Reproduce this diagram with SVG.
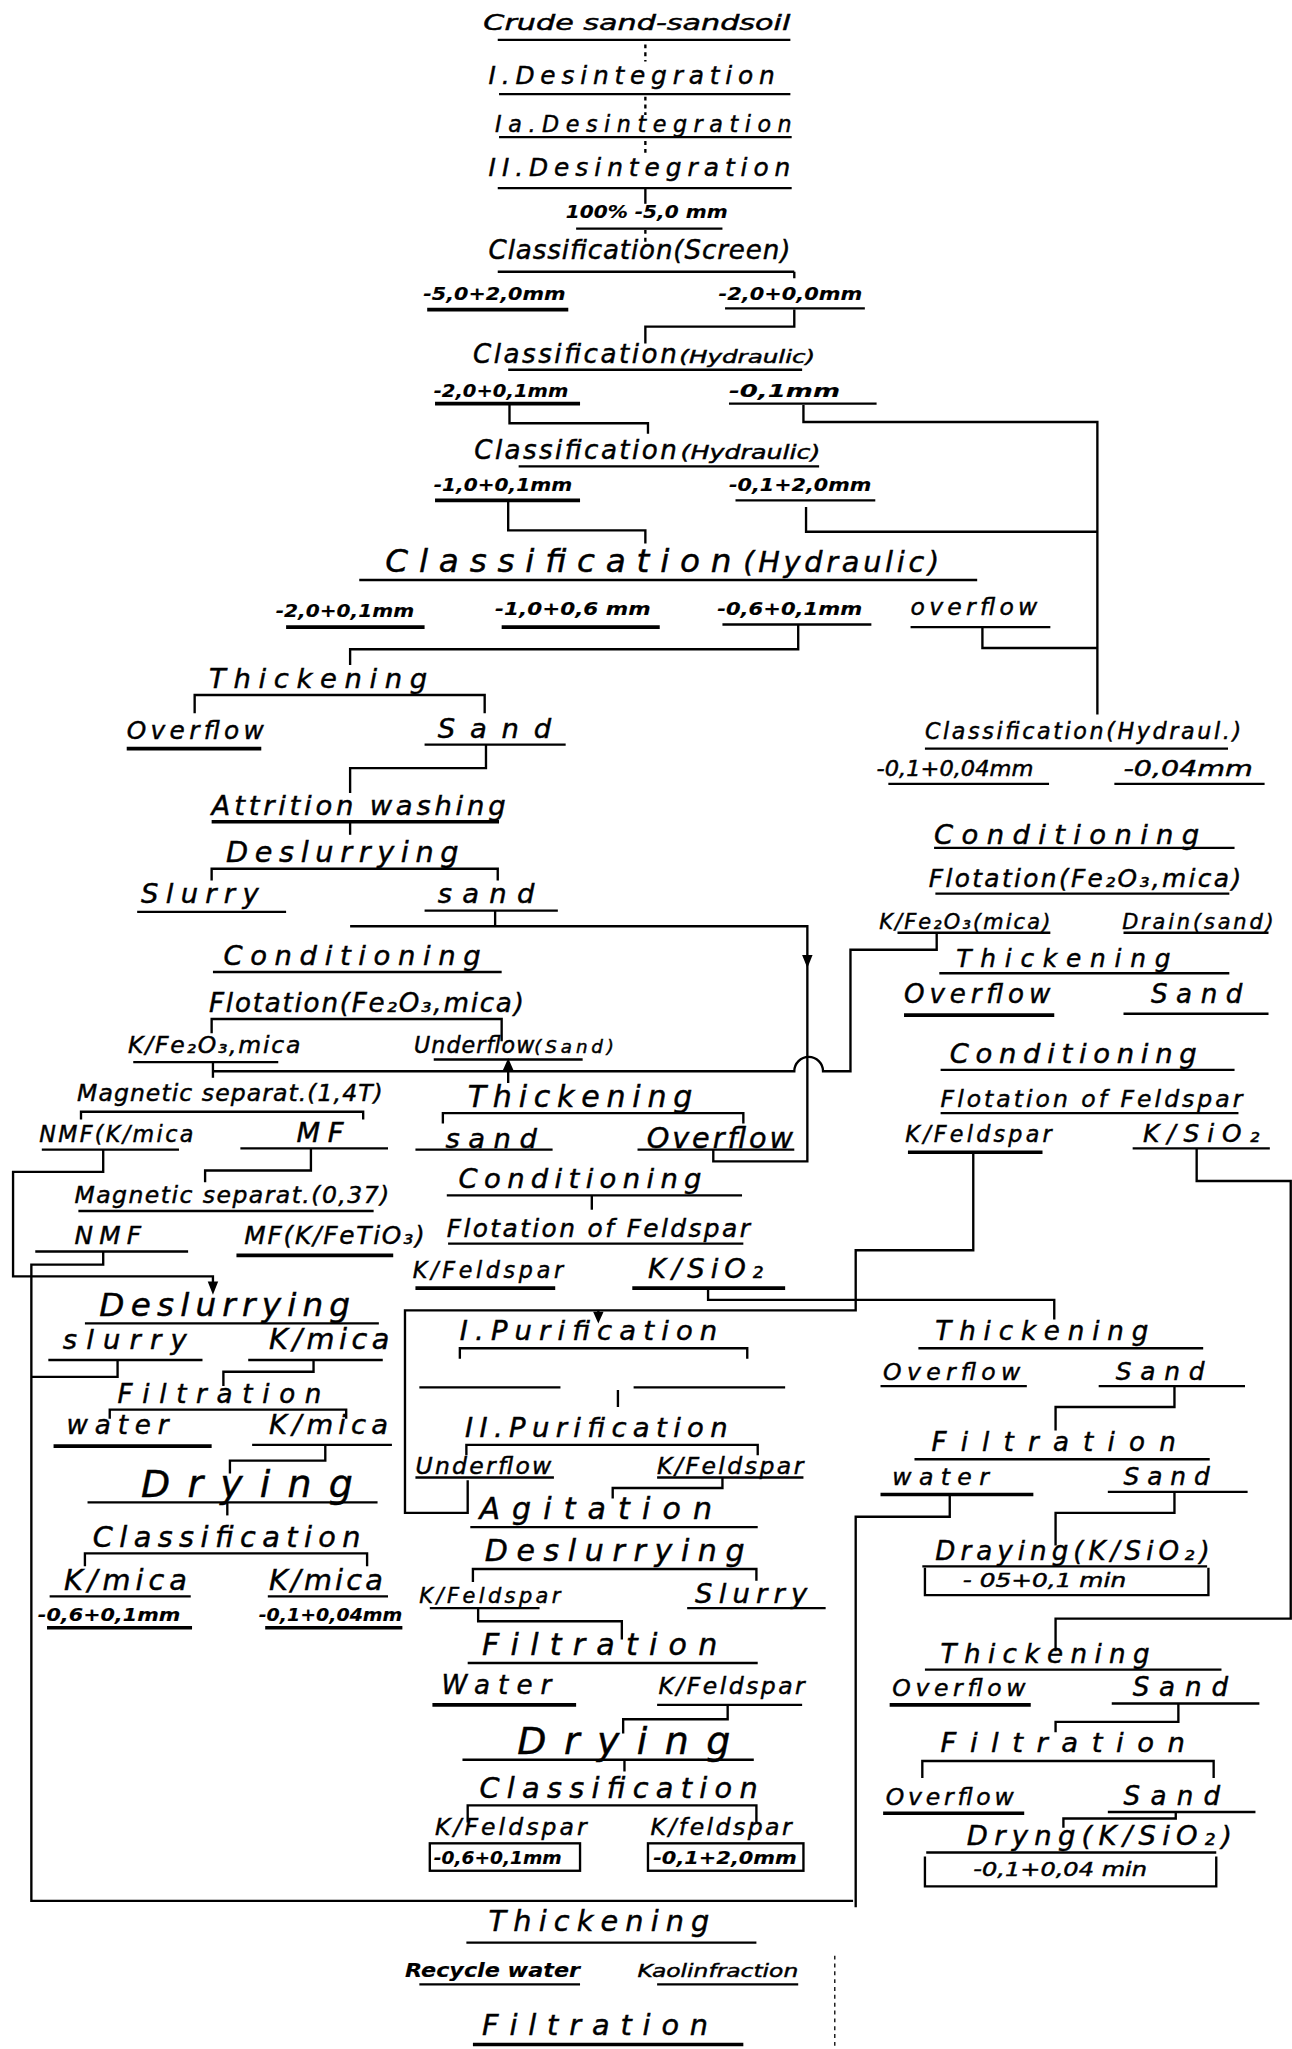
<svg xmlns="http://www.w3.org/2000/svg" width="1292" height="2049" viewBox="0 0 1292 2049">
<style>
text{font-family:"DejaVu Sans","Liberation Sans",sans-serif;font-style:italic;fill:#000;stroke:#000;stroke-width:0.35}
.b{font-weight:bold;stroke-width:0.1}
.u{stroke:#000;stroke-width:1.8;fill:none}
.w{stroke-width:2.8}
.c{stroke:#000;stroke-width:1.8;fill:none}
.d{stroke-dasharray:3 3}
.ah{fill:#000}
</style>
<rect width="1292" height="2049" fill="#fff"/>
<g transform="scale(1.3064)">
<g id="n_crude"><text x="370" y="23" font-size="16" textLength="235" lengthAdjust="spacingAndGlyphs">Crude sand-sandsoil</text><path class="u" d="M381 30.5H605"/></g>
<g id="n_des1"><text x="374" y="64" font-size="19" textLength="219">I.Desintegration</text><path class="u" d="M382 72H605"/></g>
<g id="n_des1a"><text x="379" y="101" font-size="17" textLength="227">Ia.Desintegration</text><path class="u" d="M382 105H606"/></g>
<g id="n_des2"><text x="374" y="135" font-size="19" textLength="231">II.Desintegration</text><path class="u" d="M381 144H606"/></g>
<g id="n_100"><text class="b" x="433" y="167" font-size="14" textLength="124" lengthAdjust="spacingAndGlyphs">100% -5,0 mm</text><path class="u" d="M441 175H553"/></g>
<g id="n_cls_screen"><text x="374" y="198" font-size="20" textLength="231">Classification(Screen)</text><path class="u" d="M381 208H608"/></g>
<g id="n_5020"><text class="b" x="324" y="230" font-size="14" textLength="109" lengthAdjust="spacingAndGlyphs">-5,0+2,0mm</text><path class="u w" d="M327 237H435"/></g>
<g id="n_2000"><text class="b" x="550" y="230" font-size="14" textLength="110" lengthAdjust="spacingAndGlyphs">-2,0+0,0mm</text><path class="u" d="M555 236H662"/></g>
<g id="n_cls_h1"><text x="362" y="278" font-size="20" textLength="156">Classification</text><text x="520" y="278" font-size="14" textLength="104" lengthAdjust="spacingAndGlyphs">(Hydraulic)</text><path class="u" d="M389 283H614"/></g>
<g id="n_2001a"><text class="b" x="332" y="304" font-size="14" textLength="103" lengthAdjust="spacingAndGlyphs">-2,0+0,1mm</text><path class="u w" d="M333 309H444"/></g>
<g id="n_01"><text class="b" x="558" y="304" font-size="14" textLength="85" lengthAdjust="spacingAndGlyphs">-0,1mm</text><path class="u" d="M558 309H671"/></g>
<g id="n_cls_h2"><text x="363" y="351" font-size="20" textLength="155">Classification</text><text x="521" y="351" font-size="15" textLength="107" lengthAdjust="spacingAndGlyphs">(Hydraulic)</text><path class="u" d="M397 357H627"/></g>
<g id="n_1001"><text class="b" x="332" y="376" font-size="14" textLength="106" lengthAdjust="spacingAndGlyphs">-1,0+0,1mm</text><path class="u w" d="M333 383H444"/></g>
<g id="n_0120"><text class="b" x="558" y="376" font-size="14" textLength="109" lengthAdjust="spacingAndGlyphs">-0,1+2,0mm</text><path class="u" d="M563 383H670"/></g>
<g id="n_cls_h3"><text x="295" y="438" font-size="25" textLength="265">Classification</text><text x="569" y="438" font-size="22" textLength="150">(Hydraulic)</text><path class="u" d="M275 444H748"/></g>
<g id="n_r1"><text class="b" x="211" y="472" font-size="14" textLength="106" lengthAdjust="spacingAndGlyphs">-2,0+0,1mm</text><path class="u w" d="M219 480H325"/></g>
<g id="n_r2"><text class="b" x="379" y="471" font-size="14" textLength="119" lengthAdjust="spacingAndGlyphs">-1,0+0,6 mm</text><path class="u w" d="M384 480H505"/></g>
<g id="n_r3"><text class="b" x="549" y="471" font-size="14" textLength="111" lengthAdjust="spacingAndGlyphs">-0,6+0,1mm</text><path class="u" d="M553 478H667"/></g>
<g id="n_r4"><text x="697" y="471" font-size="18" textLength="97">overflow</text><path class="u" d="M697 480H804"/></g>
<g id="n_thick1"><text x="160" y="527" font-size="21" textLength="167">Thickening</text></g>
<g id="n_ovf1"><text x="97" y="566" font-size="19" textLength="105">Overflow</text><path class="u w" d="M97 573H200"/></g>
<g id="n_sand1"><text x="335" y="565" font-size="21" textLength="87">Sand</text><path class="u" d="M325 570H433"/></g>
<g id="n_attr"><text x="162" y="624" font-size="21" textLength="225">Attrition washing</text><path class="u w" d="M162 629H382"/></g>
<g id="n_desl1"><text x="173" y="660" font-size="22" textLength="178">Deslurrying</text></g>
<g id="n_slurry1"><text x="108" y="691" font-size="21" textLength="90">Slurry</text><path class="u" d="M105 698H219"/></g>
<g id="n_sand2"><text x="335" y="691" font-size="21" textLength="74">sand</text><path class="u" d="M325 697H427"/></g>
<g id="n_cond1"><text x="171" y="739" font-size="21" textLength="197">Conditioning</text><path class="u" d="M163 744H384"/></g>
<g id="n_flot1"><text x="160" y="775" font-size="20" textLength="241">Flotation(Fe₂O₃,mica)</text></g>
<g id="n_kfe1"><text x="98" y="806" font-size="18" textLength="132">K/Fe₂O₃,mica</text><path class="u" d="M102 813H213"/></g>
<g id="n_uf1"><text x="317" y="806" font-size="17" textLength="92">Underflow</text><text x="409" y="806" font-size="14" textLength="61">(Sand)</text><path class="u" d="M332 811H446"/></g>
<g id="n_mag1"><text x="59" y="843" font-size="18" textLength="234">Magnetic separat.(1,4T)</text></g>
<g id="n_nmf1"><text x="30" y="874" font-size="17" textLength="118">NMF(K/mica</text><path class="u" d="M32 880H137"/></g>
<g id="n_mf1"><text x="227" y="874" font-size="21" textLength="36">MF</text><path class="u" d="M184 879H297"/></g>
<g id="n_mag2"><text x="57" y="921" font-size="18" textLength="241">Magnetic separat.(0,37)</text><path class="u" d="M60 927H286"/></g>
<g id="n_nmf2"><text x="57" y="952" font-size="19" textLength="51">NMF</text><path class="u" d="M27 958H144"/></g>
<g id="n_mf2"><text x="187" y="952" font-size="19" textLength="138">MF(K/FeTiO₃)</text><path class="u w" d="M181 961H301"/></g>
<g id="n_desl2"><text x="76" y="1007" font-size="25" textLength="192">Deslurrying</text><path class="u" d="M65 1013H290"/></g>
<g id="n_slurry2"><text x="48" y="1033" font-size="21" textLength="95">slurry</text><path class="u" d="M37 1041H155"/></g>
<g id="n_kmica1"><text x="206" y="1033" font-size="22" textLength="92">K/mica</text><path class="u" d="M190 1041H293"/></g>
<g id="n_filt1"><text x="90" y="1074" font-size="20" textLength="156">Filtration</text></g>
<g id="n_water1"><text x="51" y="1098" font-size="20" textLength="78">water</text><path class="u w" d="M41 1107H162"/></g>
<g id="n_kmica2"><text x="206" y="1098" font-size="21" textLength="91">K/mica</text><path class="u" d="M193 1106H300"/></g>
<g id="n_dry1"><text x="108" y="1146" font-size="29" textLength="162">Drying</text><path class="u" d="M67 1150H289"/></g>
<g id="n_cls_l"><text x="71" y="1184" font-size="22" textLength="205">Classification</text></g>
<g id="n_kmica3"><text x="49" y="1217" font-size="22" textLength="94">K/mica</text><path class="u" d="M38 1222H146"/></g>
<g id="n_kmica4"><text x="206" y="1217" font-size="22" textLength="87">K/mica</text><path class="u" d="M205 1222H297"/></g>
<g id="n_s1"><text class="b" x="29" y="1241" font-size="14" textLength="109" lengthAdjust="spacingAndGlyphs">-0,6+0,1mm</text><path class="u w" d="M36 1246H147"/></g>
<g id="n_s2"><text class="b" x="198" y="1241" font-size="14" textLength="110" lengthAdjust="spacingAndGlyphs">-0,1+0,04mm</text><path class="u w" d="M203 1246H308"/></g>
<g id="n_thick2"><text x="358" y="847" font-size="23" textLength="172">Thickening</text></g>
<g id="n_sand3"><text x="341" y="879" font-size="21" textLength="70">sand</text><path class="u" d="M318 880H423"/></g>
<g id="n_ovf2"><text x="495" y="879" font-size="22" textLength="112">Overflow</text><path class="u" d="M488 880H608"/></g>
<g id="n_cond2"><text x="351" y="909" font-size="21" textLength="186">Conditioning</text><path class="u" d="M342 915H568"/></g>
<g id="n_flotf2"><text x="342" y="947" font-size="19" textLength="232">Flotation of Feldspar</text><path class="u" d="M343 952H569"/></g>
<g id="n_kf2"><text x="316" y="978" font-size="17" textLength="115">K/Feldspar</text><path class="u w" d="M318 986H425"/></g>
<g id="n_ksio2"><text x="496" y="978" font-size="21" textLength="88">K/SiO₂</text><path class="u w" d="M484 986H601"/></g>
<g id="n_pur1"><text x="352" y="1026" font-size="21" textLength="197">I.Purification</text></g>
<g id="n_pur2"><text x="356" y="1100" font-size="21" textLength="201">II.Purification</text></g>
<g id="n_uf2"><text x="318" y="1128" font-size="18" textLength="104">Underflow</text><path class="u" d="M318 1131H424"/></g>
<g id="n_kf3"><text x="503" y="1128" font-size="18" textLength="112">K/Feldspar</text><path class="u" d="M503 1131H615"/></g>
<g id="n_agit"><text x="367" y="1163" font-size="23" textLength="178">Agitation</text><path class="u" d="M360 1169H580"/></g>
<g id="n_desl3"><text x="371" y="1195" font-size="23" textLength="199">Deslurrying</text></g>
<g id="n_kf4"><text x="321" y="1227" font-size="16" textLength="108">K/Feldspar</text><path class="u" d="M329 1231H413"/></g>
<g id="n_slurry3"><text x="532" y="1227" font-size="21" textLength="86">Slurry</text><path class="u" d="M526 1231H632"/></g>
<g id="n_filt3"><text x="369" y="1267" font-size="23" textLength="180">Filtration</text><path class="u" d="M358 1273H580"/></g>
<g id="n_water3"><text x="338" y="1297" font-size="20" textLength="84">Water</text><path class="u w" d="M331 1305H441"/></g>
<g id="n_kf5"><text x="504" y="1297" font-size="18" textLength="112">K/Feldspar</text><path class="u" d="M503 1305H614"/></g>
<g id="n_dry3"><text x="396" y="1343" font-size="29" textLength="163">Drying</text><path class="u" d="M354 1347H577"/></g>
<g id="n_cls3"><text x="367" y="1376" font-size="22" textLength="213">Classification</text></g>
<g id="n_kf6"><text x="333" y="1405" font-size="18" textLength="116">K/Feldspar</text><rect class="u" x="329" y="1411" width="115" height="21"/><text class="b" x="332" y="1427" font-size="14" textLength="98" lengthAdjust="spacingAndGlyphs">-0,6+0,1mm</text></g>
<g id="n_kf7"><text x="498" y="1405" font-size="18" textLength="108">K/feldspar</text><rect class="u" x="496" y="1411" width="119" height="21"/><text class="b" x="500" y="1427" font-size="14" textLength="110" lengthAdjust="spacingAndGlyphs">-0,1+2,0mm</text></g>
<g id="n_thick3"><text x="374" y="1478" font-size="22" textLength="169">Thickening</text><path class="u" d="M357 1487H579"/></g>
<g id="n_recyc"><text class="b" x="310" y="1513" font-size="15" textLength="134" lengthAdjust="spacingAndGlyphs">Recycle water</text><path class="u" d="M321 1519H444"/></g>
<g id="n_kaolin"><text x="488" y="1513" font-size="14" textLength="123" lengthAdjust="spacingAndGlyphs">Kaolinfraction</text><path class="u" d="M503 1519H611"/></g>
<g id="n_filt4"><text x="369" y="1558" font-size="22" textLength="173">Filtration</text><path class="u w" d="M362 1565H569"/></g>
<g id="n_clsr"><text x="708" y="566" font-size="17" textLength="242">Classification(Hydraul.)</text><path class="u" d="M708 573H940"/></g>
<g id="n_r0104"><text x="671" y="594" font-size="16" textLength="120" lengthAdjust="spacingAndGlyphs">-0,1+0,04mm</text><path class="u" d="M680 600H803"/></g>
<g id="n_r004"><text x="860" y="594" font-size="16" textLength="99" lengthAdjust="spacingAndGlyphs">-0,04mm</text><path class="u" d="M853 600H968"/></g>
<g id="n_condr"><text x="715" y="646" font-size="21" textLength="203">Conditioning</text><path class="u" d="M715 649H945"/></g>
<g id="n_flotr"><text x="711" y="679" font-size="19" textLength="239">Flotation(Fe₂O₃,mica)</text><path class="u" d="M716 684H941"/></g>
<g id="n_kfer"><text x="673" y="711" font-size="16" textLength="131">K/Fe₂O₃(mica)</text><path class="u" d="M687 714H804"/></g>
<g id="n_drain"><text x="859" y="711" font-size="16" textLength="116">Drain(sand)</text><path class="u" d="M860 714H971"/></g>
<g id="n_thickr1"><text x="732" y="740" font-size="19" textLength="164">Thickening</text><path class="u" d="M719 745H941"/></g>
<g id="n_ovfr1"><text x="692" y="768" font-size="20" textLength="112">Overflow</text><path class="u w" d="M692 777H807"/></g>
<g id="n_sandr1"><text x="881" y="768" font-size="20" textLength="70">Sand</text><path class="u" d="M860 776H971"/></g>
<g id="n_condr2"><text x="727" y="814" font-size="21" textLength="189">Conditioning</text><path class="u" d="M720 819H945"/></g>
<g id="n_flotfr"><text x="720" y="847" font-size="18" textLength="231">Flotation of Feldspar</text><path class="u" d="M720 852H948"/></g>
<g id="n_kfr"><text x="693" y="874" font-size="17" textLength="112">K/Feldspar</text><path class="u w" d="M695 882H798"/></g>
<g id="n_ksior"><text x="875" y="874" font-size="19" textLength="89">K/SiO₂</text><path class="u" d="M867 879H972"/></g>
<g id="n_thickr2"><text x="716" y="1026" font-size="20" textLength="163">Thickening</text><path class="u" d="M703 1032H921"/></g>
<g id="n_ovfr2"><text x="676" y="1056" font-size="18" textLength="105">Overflow</text><path class="u" d="M674 1061H786"/></g>
<g id="n_sandr2"><text x="854" y="1056" font-size="19" textLength="68">Sand</text><path class="u" d="M841 1061H953"/></g>
<g id="n_filtr2"><text x="713" y="1111" font-size="20" textLength="187">Filtration</text><path class="u" d="M700 1117H926"/></g>
<g id="n_waterr"><text x="683" y="1137" font-size="18" textLength="74">water</text><path class="u w" d="M674 1144H791"/></g>
<g id="n_sandr3"><text x="860" y="1137" font-size="19" textLength="66">Sand</text><path class="u" d="M848 1142H955"/></g>
<g id="n_dryr1"><text x="716" y="1194" font-size="20" textLength="210">Draying(K/SiO₂)</text><path class="u" d="M706 1199H924"/><path class="u" d="M708 1200V1221H925V1200"/><text x="737" y="1215" font-size="15" textLength="125" lengthAdjust="spacingAndGlyphs">- 05+0,1 min</text></g>
<g id="n_thickr3"><text x="720" y="1273" font-size="20" textLength="160">Thickening</text><path class="u" d="M708 1278H935"/></g>
<g id="n_ovfr3"><text x="683" y="1298" font-size="18" textLength="102">Overflow</text><path class="u w" d="M681 1305H789"/></g>
<g id="n_sandr4"><text x="867" y="1298" font-size="20" textLength="73">Sand</text><path class="u" d="M851 1304H964"/></g>
<g id="n_filtr3"><text x="720" y="1341" font-size="21" textLength="187">Filtration</text></g>
<g id="n_ovfr4"><text x="678" y="1382" font-size="18" textLength="98">Overflow</text><path class="u w" d="M676 1388H784"/></g>
<g id="n_sandr5"><text x="860" y="1382" font-size="20" textLength="74">Sand</text><path class="u" d="M848 1387H961"/></g>
<g id="n_dryr2"><text x="740" y="1412" font-size="21" textLength="203">Dryng(K/SiO₂)</text><path class="u" d="M709 1418H931"/><path class="u" d="M708 1421V1444H931V1421"/><text x="745" y="1436" font-size="15" textLength="133" lengthAdjust="spacingAndGlyphs">-0,1+0,04 min</text></g>
<g id="connectors">
<path class="c d" d="M494 34V47M494 74V88M494 108V120M494 176V186"/>
<path class="c" d="M494 144V156"/>
<path class="c" d="M608 208V213"/>
<path class="c" d="M608 237V250H494V263"/>
<path class="c" d="M390 309V324H496V332"/>
<path class="c" d="M615 310V323H840V547"/>
<path class="c" d="M389 384V406H494V416"/>
<path class="c" d="M617 388V407H840"/>
<path class="c" d="M611 478V497H268V509"/>
<path class="c" d="M752 480V496H840"/>
<path class="c" d="M149 546V532H371V546"/>
<path class="c" d="M372 570V588H268V607"/>
<path class="c" d="M268 630V639"/>
<path class="c" d="M162 674V665H381V674"/>
<path class="c" d="M379 697V709"/>
<path class="c" d="M268 709H618V889H546V880"/>
<polygon class="ah" points="618,741 614,731 622,731"/>
<path class="c" d="M162 791V780H384V797"/>
<path class="c" d="M163 813V825"/>
<path class="c" d="M163 820H608A11 11 0 0 1 630 820H651V727H717V714"/>
<path class="c" d="M389 819V829"/>
<polygon class="ah" points="389,810 385,819 393,819"/>
<path class="c" d="M62 857V851H278V857"/>
<path class="c" d="M79 880V897H10V977H163V983"/>
<polygon class="ah" points="163,991 159,981 167,981"/>
<path class="c" d="M238 879V896H157V905"/>
<path class="c" d="M79 958V968H24V1455H653"/>
<path class="c" d="M90 1041V1054H24"/>
<path class="c" d="M240 1041V1050H171V1061"/>
<path class="c" d="M84 1086V1079H265V1086"/>
<path class="c" d="M249 1106V1118H176V1128"/>
<path class="c" d="M174 1150V1160"/>
<path class="c" d="M65 1199V1189H281V1199"/>
<path class="c" d="M339 860V852H569V860"/>
<path class="c" d="M453 915V926"/>
<path class="c" d="M542 986V995H807V1010"/>
<path class="c" d="M745 882V957H655V1003H310V1158H358V1133"/>
<path class="c" d="M458 1003V1006"/>
<polygon class="ah" points="458,1013 454,1004 462,1004"/>
<path class="c" d="M352 1040V1032H572V1040"/>
<path class="c" d="M321 1062H429M485 1062H601M473 1064V1077"/>
<path class="c" d="M357 1114V1106H580V1114"/>
<path class="c" d="M553 1131V1139H469V1147"/>
<path class="c" d="M362 1211V1201H579V1210"/>
<path class="c" d="M366 1231V1241H476V1255"/>
<path class="c" d="M557 1305V1316H477V1327"/>
<path class="c" d="M478 1347V1356"/>
<path class="c" d="M358 1395V1382H579V1395"/>
<path class="c" d="M727 1144V1161H655V1460"/>
<path class="c" d="M916 879V904H988V1239H808V1264"/>
<path class="c" d="M899 1061V1077H808V1095"/>
<path class="c" d="M899 1142V1158H808V1183"/>
<path class="c" d="M902 1304V1318H808V1326"/>
<path class="c" d="M706 1361V1348H929V1361"/>
<path class="c" d="M900 1387V1392H814V1399"/>
<path class="c d" style="stroke-width:1" d="M639 1497V1568"/>
</g>
</g>
</svg>
